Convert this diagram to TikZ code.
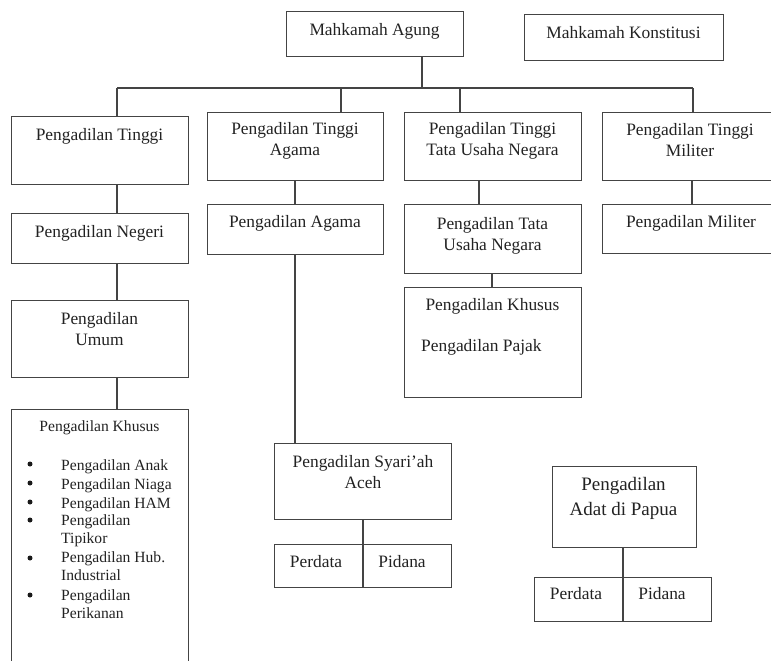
\documentclass[tikz,border=0pt]{standalone}
\usepackage{fontspec}
\setmainfont{Liberation Serif}
\definecolor{linec}{HTML}{444444}
\definecolor{textc}{HTML}{222222}
\begin{document}
\begin{tikzpicture}[x=1pt,y=-1pt,
  box/.style={draw=linec, line width=1.3pt, inner sep=0pt, anchor=north west},
  conn/.style={draw=linec, line width=1.3pt},
  txt/.style={font=\fontsize{17.4}{21}\selectfont, text=textc, align=center, inner sep=0pt},
  stxt/.style={font=\fontsize{15.6}{18}\selectfont, text=textc, align=left, inner sep=0pt, anchor=west},
  bul/.style={circle, fill=black!90, minimum size=5pt, inner sep=0pt},
  btxt/.style={font=\fontsize{19}{25}\selectfont, text=textc, align=center, inner sep=0pt}]
\useasboundingbox (0,0) rectangle (771,661);
% boxes
\node[box, minimum width=177, minimum height=45] (MA) at (286,11) {};
\node[box, minimum width=199, minimum height=46] (MK) at (524,14) {};
\node[box, minimum width=177, minimum height=68] (PT) at (11,116) {};
\node[box, minimum width=176, minimum height=68] (PTA) at (207,112) {};
\node[box, minimum width=177, minimum height=68] (PTTUN) at (404,112) {};
\node[box, minimum width=180, minimum height=68] (PTM) at (602,112) {};
\node[box, minimum width=177, minimum height=50] (PN) at (11,213) {};
\node[box, minimum width=176, minimum height=50] (PA) at (207,204) {};
\node[box, minimum width=177, minimum height=69] (PTUN) at (404,204) {};
\node[box, minimum width=180, minimum height=49] (PM) at (602,204) {};
\node[box, minimum width=177, minimum height=77] (PU) at (11,300) {};
\node[box, minimum width=177, minimum height=110] (PK2) at (404,287) {};
\node[box, minimum width=177, minimum height=280] (PKL) at (11,409) {};
\node[box, minimum width=177, minimum height=76] (SY) at (274,443) {};
\node[box, minimum width=177, minimum height=43] (S1) at (274,544) {};
\node[box, minimum width=144, minimum height=81] (PP) at (552,466) {};
\node[box, minimum width=177, minimum height=44] (S2) at (534,577) {};
% texts
\node[txt] (tMA) at (374.5,31) {Mahkamah Agung};
\node[txt] (tMK) at (623.5,33) {Mahkamah Konstitusi};
\node[txt] (tPT) at (99.5,136) {Pengadilan Tinggi};
\node[txt] (tPTA) at (295,140.5) {Pengadilan Tinggi\\Agama};
\node[txt] (tPTTUN) at (492.5,140.5) {Pengadilan Tinggi\\Tata Usaha Negara};
\node[txt] (tPTM) at (690,140.5) {Pengadilan Tinggi\\Militer};
\node[txt] (tPN) at (99.5,233) {Pengadilan Negeri};
\node[txt] (tPA) at (295,223) {Pengadilan Agama};
\node[txt] (tPTUN) at (492.5,235.5) {Pengadilan Tata\\Usaha Negara};
\node[txt] (tPM) at (691,223) {Pengadilan Militer};
\node[txt] (tPU) at (99.5,329.5) {Pengadilan\\Umum};
\node[txt] (tPK2) at (492.5,306) {Pengadilan Khusus};
\node[txt, anchor=west] (tPJ) at (421,347) {Pengadilan Pajak};
\node[txt] (tSY) at (363,472) {Pengadilan Syari'ah\\Aceh};
\node[txt] (tS1a) at (316,562) {Perdata};
\node[txt] (tS1b) at (402,562) {Pidana};
\node[btxt] (tPP) at (623.5,498) {Pengadilan\\Adat di Papua};
\node[txt] (tS2a) at (576,594) {Perdata};
\node[txt] (tS2b) at (662,594) {Pidana};
% left special courts list
\node[stxt, anchor=center] (tPKL) at (99.5,428) {Pengadilan Khusus};
\node[bul] (b1) at (30,464) {};
\node[stxt] (i1) at (61,466.5) {Pengadilan Anak};
\node[bul] (b2) at (30,483) {};
\node[stxt] (i2) at (61,485.5) {Pengadilan Niaga};
\node[bul] (b3) at (30,502) {};
\node[stxt] (i3) at (61,504.5) {Pengadilan HAM};
\node[bul] (b4) at (30,520) {};
\node[stxt, anchor=north west] (i4) at (61,514.5) {Pengadilan\\Tipikor};
\node[bul] (b5) at (30,558) {};
\node[stxt, anchor=north west] (i5) at (61,551.5) {Pengadilan Hub.\\Industrial};
\node[bul] (b6) at (30,595) {};
\node[stxt, anchor=north west] (i6) at (61,589) {Pengadilan\\Perikanan};
% connectors
\coordinate (j0) at (422,88);
\coordinate (bl) at (117,88);
\coordinate (br) at (693,88);
\coordinate (c2) at (341,88);
\coordinate (c3) at (460,88);
\draw[conn] (j0 |- MA.south) -- (j0);
\draw[conn] (bl) -- (br);
\draw[conn] (bl) -- (bl |- PT.north);
\draw[conn] (c2) -- (c2 |- PTA.north);
\draw[conn] (c3) -- (c3 |- PTTUN.north);
\draw[conn] (br) -- (br |- PTM.north);
\draw[conn] (bl |- PT.south) -- (bl |- PN.north);
\draw[conn] (bl |- PN.south) -- (bl |- PU.north);
\draw[conn] (bl |- PU.south) -- (bl |- PKL.north);
\coordinate (ca) at (295,0);
\draw[conn] (ca |- PTA.south) -- (ca |- PA.north);
\draw[conn] (ca |- PA.south) -- (ca |- SY.north);
\coordinate (ct) at (479,0);
\draw[conn] (ct |- PTTUN.south) -- (ct |- PTUN.north);
\coordinate (ck) at (492,0);
\draw[conn] (ck |- PTUN.south) -- (ck |- PK2.north);
\coordinate (cm) at (692,0);
\draw[conn] (cm |- PTM.south) -- (cm |- PM.north);
\coordinate (cs) at (363,0);
\draw[conn] (cs |- SY.south) -- (cs |- S1.north);
\draw[conn] (cs |- S1.north) -- (cs |- S1.south);
\coordinate (cp) at (623,0);
\draw[conn] (cp |- PP.south) -- (cp |- S2.north);
\draw[conn] (cp |- S2.north) -- (cp |- S2.south);
\end{tikzpicture}
\end{document}
